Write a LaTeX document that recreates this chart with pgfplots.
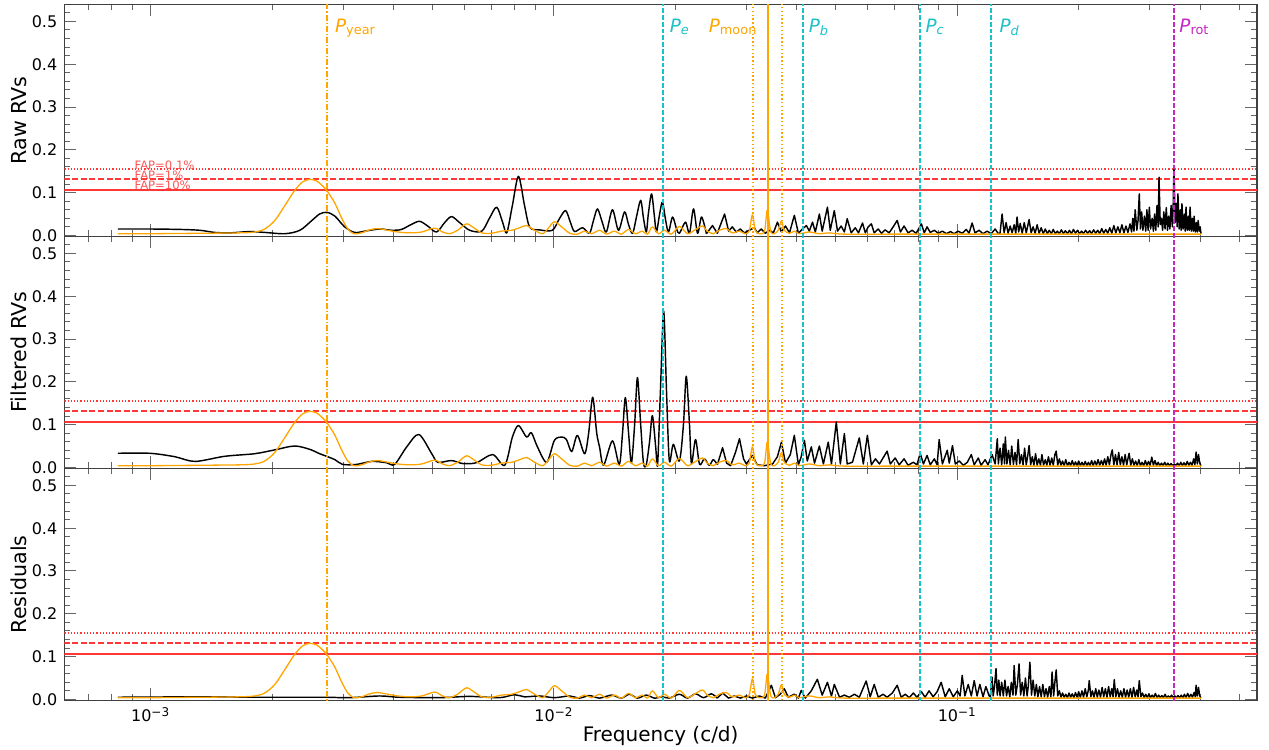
\documentclass[border=0pt]{standalone}
\usepackage{pgfplots}
\usepackage{pgfplotstable}
\pgfplotsset{compat=1.18}
\usepackage{fontspec}
\setmainfont{DejaVu Sans}

\definecolor{winorange}{HTML}{FFA500}
\definecolor{planetcyan}{HTML}{1CC1C8}
\definecolor{rotmag}{HTML}{C526C5}
\definecolor{faprd}{RGB}{255,55,55}

% Columns: log10 of frequency (c/d) and normalised GLS power

% spectral window (same sampling for all three data sets)
\pgfplotstableread{
logf power
-3.081 0.004
-3.002 0.004
-2.878 0.005
-2.779 0.006
-2.742 0.008
-2.717 0.015
-2.692 0.035
-2.667 0.070
-2.643 0.105
-2.623 0.125
-2.605 0.131
-2.588 0.127
-2.573 0.115
-2.561 0.102
-2.543 0.075
-2.526 0.040
-2.511 0.015
-2.496 0.004
-2.477 0.006
-2.457 0.013
-2.437 0.016
-2.412 0.012
-2.387 0.008
-2.358 0.006
-2.328 0.008
-2.296 0.017
-2.276 0.008
-2.259 0.004
-2.239 0.012
-2.217 0.027
-2.199 0.018
-2.179 0.006
-2.155 0.005
-2.130 0.010
-2.105 0.012
-2.085 0.018
-2.068 0.023
-2.048 0.012
-2.028 0.004
-2.013 0.018
-1.999 0.032
-1.981 0.020
-1.961 0.005
-1.942 0.003
-1.924 0.010
-1.907 0.004
-1.887 0.012
-1.870 0.003
-1.850 0.010
-1.833 0.003
-1.815 0.014
-1.798 0.004
-1.781 0.010
-1.768 0.003
-1.756 0.020
-1.741 0.004
-1.726 0.012
-1.709 0.003
-1.689 0.021
-1.669 0.004
-1.652 0.012
-1.632 0.022
-1.620 0.010
-1.605 0.004
-1.590 0.012
-1.573 0.016
-1.558 0.006
-1.540 0.010
-1.526 0.004
-1.516 0.010
-1.508 0.048
-1.501 0.012
-1.491 0.004
-1.478 0.010
-1.471 0.060
-1.463 0.010
-1.454 0.004
-1.444 0.012
-1.436 0.034
-1.429 0.012
-1.416 0.005
-1.404 0.010
-1.392 0.004
-1.367 0.008
-1.342 0.004
-1.317 0.006
-1.280 0.003
-1.144 0.003
-0.896 0.003
-0.649 0.003
-0.396 0.003
}\windowtab

% raw RVs: long-period part
\pgfplotstableread{
logf power
-3.081 0.015
-3.002 0.015
-2.927 0.014
-2.878 0.012
-2.841 0.007
-2.803 0.006
-2.754 0.009
-2.717 0.007
-2.667 0.004
-2.630 0.012
-2.600 0.035
-2.581 0.050
-2.563 0.054
-2.543 0.045
-2.519 0.020
-2.494 0.007
-2.469 0.010
-2.432 0.015
-2.402 0.012
-2.378 0.014
-2.353 0.026
-2.333 0.033
-2.313 0.022
-2.291 0.008
-2.271 0.030
-2.254 0.044
-2.234 0.030
-2.209 0.012
-2.179 0.010
-2.160 0.040
-2.142 0.066
-2.127 0.030
-2.117 0.006
-2.103 0.070
-2.088 0.138
-2.073 0.070
-2.060 0.019
-2.036 0.013
-2.004 0.012
-1.986 0.040
-1.971 0.058
-1.959 0.030
-1.949 0.009
-1.929 0.018
-1.912 0.005
-1.902 0.035
-1.892 0.062
-1.880 0.030
-1.870 0.008
-1.855 0.060
-1.840 0.012
-1.825 0.055
-1.815 0.025
-1.805 0.005
-1.795 0.045
-1.785 0.082
-1.778 0.040
-1.771 0.008
-1.766 0.050
-1.758 0.097
-1.751 0.045
-1.746 0.008
-1.738 0.050
-1.731 0.078
-1.723 0.035
-1.716 0.008
-1.706 0.043
-1.696 0.015
-1.689 0.005
-1.674 0.031
-1.664 0.005
-1.654 0.062
-1.644 0.005
-1.634 0.043
-1.622 0.004
}\rawlow

% raw RVs: short-period part
\pgfplotstableread{
logf power
-1.622 0.004
-1.607 0.023
-1.595 0.005
-1.587 0.025
-1.577 0.050
-1.567 0.010
-1.558 0.020
-1.548 0.008
-1.538 0.015
-1.528 0.006
-1.516 0.012
-1.503 0.018
-1.496 0.006
-1.486 0.015
-1.476 0.005
-1.466 0.012
-1.456 0.006
-1.446 0.031
-1.436 0.008
-1.426 0.022
-1.416 0.006
-1.404 0.047
-1.394 0.005
-1.384 0.015
-1.374 0.023
-1.367 0.010
-1.359 0.031
-1.352 0.008
-1.342 0.050
-1.335 0.010
-1.322 0.066
-1.315 0.012
-1.305 0.058
-1.297 0.010
-1.288 0.022
-1.280 0.008
-1.273 0.039
-1.263 0.006
-1.253 0.018
-1.245 0.006
-1.235 0.029
-1.228 0.006
-1.221 0.020
-1.213 0.027
-1.206 0.006
-1.196 0.015
-1.188 0.005
-1.179 0.013
-1.169 0.006
-1.159 0.020
-1.149 0.035
-1.141 0.008
-1.132 0.022
-1.122 0.006
-1.112 0.012
-1.102 0.005
-1.089 0.027
-1.082 0.006
-1.075 0.020
-1.067 0.007
-1.057 0.012
-1.047 0.005
-1.037 0.010
-1.027 0.004
-1.017 0.009
-1.008 0.004
-0.998 0.010
-0.988 0.005
-0.978 0.014
-0.971 0.005
-0.963 0.029
-0.956 0.006
-0.946 0.012
-0.936 0.004
-0.926 0.010
-0.916 0.004
-0.906 0.015
-0.899 0.005
-0.894 0.005
-0.889 0.050
-0.884 0.006
-0.879 0.030
-0.874 0.005
-0.869 0.022
-0.864 0.006
-0.859 0.025
-0.855 0.005
-0.852 0.043
-0.848 0.008
-0.844 0.028
-0.839 0.005
-0.834 0.030
-0.829 0.006
-0.822 0.037
-0.817 0.006
-0.812 0.020
-0.807 0.005
-0.802 0.025
-0.797 0.005
-0.792 0.018
-0.787 0.004
-0.782 0.015
-0.777 0.004
-0.772 0.012
-0.767 0.004
-0.762 0.014
-0.757 0.004
-0.752 0.010
-0.747 0.004
-0.742 0.013
-0.737 0.004
-0.732 0.011
-0.727 0.004
-0.722 0.012
-0.717 0.004
-0.712 0.014
-0.707 0.005
-0.702 0.012
-0.697 0.004
-0.692 0.010
-0.687 0.004
-0.682 0.012
-0.677 0.005
-0.672 0.011
-0.667 0.004
-0.662 0.013
-0.657 0.005
-0.652 0.012
-0.647 0.004
-0.642 0.016
-0.637 0.005
-0.632 0.014
-0.627 0.005
-0.622 0.018
-0.617 0.005
-0.612 0.023
-0.607 0.006
-0.602 0.020
-0.597 0.006
-0.592 0.025
-0.587 0.006
-0.582 0.022
-0.577 0.007
-0.572 0.027
-0.568 0.008
-0.565 0.040
-0.562 0.010
-0.559 0.060
-0.555 0.012
-0.552 0.035
-0.549 0.097
-0.546 0.015
-0.543 0.055
-0.540 0.012
-0.536 0.045
-0.533 0.010
-0.530 0.060
-0.527 0.012
-0.524 0.066
-0.521 0.015
-0.517 0.040
-0.514 0.010
-0.511 0.050
-0.508 0.012
-0.505 0.070
-0.502 0.020
-0.500 0.136
-0.497 0.025
-0.494 0.040
-0.491 0.012
-0.488 0.055
-0.485 0.015
-0.482 0.065
-0.479 0.012
-0.476 0.045
-0.473 0.015
-0.470 0.070
-0.467 0.020
-0.465 0.060
-0.463 0.164
-0.460 0.030
-0.457 0.075
-0.455 0.020
-0.453 0.097
-0.450 0.015
-0.447 0.060
-0.445 0.012
-0.443 0.074
-0.440 0.015
-0.437 0.050
-0.435 0.010
-0.433 0.066
-0.430 0.012
-0.427 0.045
-0.425 0.012
-0.423 0.066
-0.420 0.010
-0.417 0.040
-0.415 0.010
-0.413 0.045
-0.410 0.008
-0.407 0.030
-0.405 0.008
-0.403 0.035
-0.400 0.010
-0.398 0.020
-0.396 0.004
}\rawhigh

% filtered RVs: long-period part
\pgfplotstableread{
logf power
-3.081 0.033
-3.002 0.033
-2.940 0.025
-2.890 0.014
-2.816 0.026
-2.742 0.032
-2.692 0.041
-2.643 0.050
-2.605 0.042
-2.581 0.032
-2.561 0.025
-2.543 0.018
-2.524 0.007
-2.489 0.007
-2.452 0.014
-2.415 0.011
-2.395 0.007
-2.365 0.048
-2.335 0.077
-2.303 0.032
-2.288 0.012
-2.254 0.016
-2.226 0.009
-2.192 0.011
-2.152 0.030
-2.122 0.005
-2.103 0.071
-2.088 0.098
-2.068 0.071
-2.056 0.081
-2.041 0.048
-2.018 0.012
-1.999 0.063
-1.981 0.071
-1.969 0.065
-1.956 0.037
-1.942 0.075
-1.924 0.032
-1.914 0.080
-1.904 0.164
-1.894 0.080
-1.887 0.048
-1.877 0.005
-1.855 0.062
-1.838 0.007
-1.830 0.080
-1.823 0.163
-1.815 0.080
-1.808 0.010
-1.800 0.100
-1.793 0.210
-1.785 0.100
-1.778 0.010
-1.771 0.007
-1.763 0.060
-1.756 0.121
-1.748 0.050
-1.743 0.007
-1.736 0.180
-1.728 0.365
-1.721 0.180
-1.714 0.016
-1.704 0.054
-1.689 0.015
-1.679 0.100
-1.672 0.213
-1.664 0.100
-1.659 0.009
-1.649 0.065
-1.639 0.007
-1.627 0.020
-1.615 0.005
-1.605 0.018
-1.595 0.006
}\fltlow

% filtered RVs: short-period part
\pgfplotstableread{
logf power
-1.595 0.006
-1.582 0.046
-1.572 0.010
-1.562 0.004
-1.550 0.035
-1.540 0.067
-1.530 0.020
-1.523 0.008
-1.508 0.028
-1.496 0.006
-1.478 0.004
-1.458 0.008
-1.446 0.025
-1.436 0.059
-1.426 0.010
-1.414 0.030
-1.404 0.075
-1.394 0.006
-1.387 0.025
-1.379 0.063
-1.372 0.015
-1.362 0.048
-1.354 0.010
-1.342 0.050
-1.332 0.008
-1.320 0.059
-1.312 0.008
-1.300 0.106
-1.290 0.008
-1.280 0.079
-1.273 0.008
-1.260 0.012
-1.243 0.069
-1.233 0.008
-1.223 0.075
-1.213 0.006
-1.203 0.020
-1.193 0.008
-1.174 0.038
-1.166 0.008
-1.154 0.022
-1.144 0.006
-1.132 0.020
-1.122 0.005
-1.109 0.012
-1.100 0.006
-1.092 0.033
-1.084 0.008
-1.075 0.028
-1.067 0.006
-1.057 0.020
-1.050 0.006
-1.045 0.065
-1.037 0.008
-1.025 0.040
-1.020 0.010
-1.012 0.051
-1.005 0.008
-0.995 0.015
-0.985 0.005
-0.975 0.012
-0.965 0.030
-0.958 0.006
-0.948 0.022
-0.941 0.005
-0.931 0.018
-0.924 0.006
-0.914 0.030
-0.906 0.008
-0.901 0.067
-0.898 0.008
-0.894 0.045
-0.890 0.006
-0.886 0.055
-0.883 0.008
-0.881 0.071
-0.877 0.008
-0.873 0.040
-0.869 0.006
-0.865 0.050
-0.861 0.007
-0.857 0.035
-0.853 0.006
-0.849 0.065
-0.845 0.008
-0.841 0.030
-0.837 0.006
-0.833 0.045
-0.829 0.006
-0.825 0.030
-0.822 0.051
-0.818 0.006
-0.814 0.025
-0.810 0.005
-0.806 0.032
-0.802 0.005
-0.798 0.020
-0.794 0.005
-0.790 0.030
-0.786 0.005
-0.782 0.018
-0.778 0.005
-0.774 0.025
-0.770 0.005
-0.766 0.022
-0.762 0.005
-0.758 0.030
-0.755 0.038
-0.751 0.005
-0.747 0.020
-0.743 0.005
-0.739 0.015
-0.735 0.004
-0.731 0.018
-0.727 0.004
-0.723 0.012
-0.719 0.004
-0.715 0.016
-0.711 0.004
-0.707 0.013
-0.703 0.004
-0.699 0.015
-0.695 0.004
-0.691 0.012
-0.687 0.004
-0.683 0.014
-0.679 0.004
-0.675 0.012
-0.671 0.004
-0.667 0.016
-0.663 0.004
-0.659 0.015
-0.655 0.005
-0.651 0.018
-0.647 0.005
-0.643 0.016
-0.639 0.005
-0.635 0.020
-0.631 0.005
-0.627 0.025
-0.623 0.006
-0.619 0.030
-0.616 0.041
-0.612 0.006
-0.608 0.030
-0.604 0.006
-0.600 0.035
-0.596 0.006
-0.592 0.025
-0.588 0.005
-0.584 0.030
-0.580 0.006
-0.576 0.025
-0.574 0.033
-0.570 0.005
-0.566 0.020
-0.562 0.005
-0.558 0.015
-0.554 0.004
-0.550 0.018
-0.546 0.004
-0.542 0.012
-0.538 0.004
-0.534 0.016
-0.530 0.004
-0.526 0.014
-0.522 0.005
-0.518 0.024
-0.514 0.005
-0.510 0.016
-0.506 0.004
-0.502 0.012
-0.498 0.004
-0.494 0.010
-0.490 0.004
-0.486 0.012
-0.482 0.004
-0.478 0.010
-0.474 0.004
-0.470 0.009
-0.466 0.004
-0.462 0.008
-0.458 0.004
-0.454 0.010
-0.450 0.004
-0.446 0.012
-0.442 0.004
-0.438 0.011
-0.434 0.004
-0.430 0.014
-0.426 0.005
-0.422 0.012
-0.418 0.005
-0.414 0.020
-0.411 0.006
-0.408 0.036
-0.405 0.008
-0.402 0.030
-0.399 0.010
-0.396 0.004
}\flthigh

% residuals: long-period part
\pgfplotstableread{
logf power
-3.081 0.005
-2.878 0.006
-2.729 0.005
-2.630 0.005
-2.563 0.005
-2.506 0.004
-2.432 0.008
-2.383 0.005
-2.283 0.004
-2.209 0.007
-2.135 0.004
-2.098 0.011
-2.073 0.006
-2.036 0.008
-1.999 0.004
-1.961 0.008
-1.937 0.003
-1.912 0.009
-1.887 0.003
-1.857 0.010
-1.833 0.003
-1.813 0.012
-1.793 0.003
-1.771 0.010
-1.751 0.003
-1.731 0.006
-1.714 0.003
-1.689 0.012
-1.669 0.003
-1.649 0.013
-1.629 0.004
-1.610 0.013
-1.595 0.003
}\reslow

% residuals: short-period part
\pgfplotstableread{
logf power
-1.595 0.003
-1.582 0.015
-1.567 0.003
-1.553 0.008
-1.538 0.003
-1.523 0.008
-1.508 0.003
-1.491 0.008
-1.476 0.003
-1.461 0.033
-1.451 0.004
-1.439 0.012
-1.429 0.025
-1.419 0.005
-1.404 0.012
-1.394 0.003
-1.387 0.021
-1.377 0.003
-1.362 0.020
-1.347 0.047
-1.335 0.010
-1.322 0.040
-1.312 0.008
-1.305 0.035
-1.292 0.005
-1.280 0.010
-1.268 0.005
-1.255 0.012
-1.243 0.005
-1.226 0.043
-1.216 0.006
-1.206 0.035
-1.196 0.005
-1.184 0.012
-1.174 0.005
-1.161 0.015
-1.149 0.033
-1.139 0.005
-1.129 0.012
-1.119 0.004
-1.109 0.015
-1.100 0.005
-1.089 0.018
-1.080 0.005
-1.070 0.020
-1.060 0.006
-1.050 0.018
-1.040 0.040
-1.030 0.006
-1.020 0.025
-1.010 0.006
-1.000 0.020
-0.993 0.008
-0.988 0.056
-0.981 0.008
-0.973 0.035
-0.965 0.008
-0.958 0.044
-0.951 0.008
-0.944 0.035
-0.936 0.006
-0.929 0.030
-0.921 0.008
-0.918 0.006
-0.914 0.052
-0.911 0.008
-0.908 0.030
-0.904 0.072
-0.901 0.010
-0.897 0.045
-0.894 0.008
-0.890 0.040
-0.886 0.008
-0.882 0.045
-0.878 0.008
-0.874 0.030
-0.870 0.006
-0.866 0.040
-0.862 0.010
-0.859 0.079
-0.855 0.010
-0.851 0.035
-0.847 0.083
-0.843 0.010
-0.839 0.040
-0.835 0.008
-0.831 0.050
-0.827 0.008
-0.824 0.030
-0.820 0.087
-0.816 0.010
-0.812 0.045
-0.808 0.008
-0.804 0.035
-0.800 0.006
-0.796 0.030
-0.792 0.006
-0.788 0.035
-0.784 0.006
-0.780 0.025
-0.776 0.005
-0.772 0.030
-0.768 0.006
-0.765 0.064
-0.761 0.008
-0.758 0.040
-0.755 0.069
-0.751 0.008
-0.747 0.020
-0.743 0.005
-0.739 0.015
-0.735 0.005
-0.731 0.012
-0.727 0.004
-0.723 0.015
-0.719 0.005
-0.715 0.013
-0.711 0.004
-0.707 0.016
-0.703 0.005
-0.699 0.018
-0.695 0.005
-0.691 0.020
-0.687 0.005
-0.683 0.025
-0.679 0.006
-0.675 0.022
-0.673 0.044
-0.669 0.006
-0.665 0.020
-0.661 0.005
-0.657 0.025
-0.653 0.005
-0.649 0.022
-0.645 0.005
-0.641 0.028
-0.637 0.006
-0.633 0.025
-0.629 0.005
-0.625 0.030
-0.621 0.006
-0.617 0.025
-0.614 0.006
-0.611 0.046
-0.607 0.006
-0.603 0.025
-0.599 0.005
-0.595 0.020
-0.591 0.005
-0.587 0.025
-0.583 0.005
-0.579 0.022
-0.575 0.005
-0.571 0.025
-0.567 0.005
-0.563 0.028
-0.559 0.006
-0.555 0.022
-0.552 0.006
-0.549 0.044
-0.545 0.006
-0.541 0.015
-0.537 0.004
-0.533 0.012
-0.529 0.004
-0.525 0.013
-0.521 0.004
-0.517 0.010
-0.513 0.004
-0.509 0.014
-0.505 0.004
-0.501 0.010
-0.497 0.004
-0.493 0.009
-0.489 0.004
-0.485 0.012
-0.481 0.004
-0.477 0.008
-0.473 0.004
-0.469 0.010
-0.465 0.004
-0.461 0.008
-0.457 0.004
-0.453 0.009
-0.449 0.004
-0.445 0.010
-0.441 0.004
-0.437 0.012
-0.433 0.004
-0.429 0.014
-0.425 0.005
-0.421 0.012
-0.417 0.005
-0.413 0.016
-0.410 0.006
-0.408 0.033
-0.405 0.008
-0.402 0.028
-0.399 0.008
-0.396 0.004
}\reshigh

% shared look of the three stacked periodogram panels
\pgfplotsset{
  every axis/.append style={
    xmode=log, scale only axis,
    width=596.4pt, height=116pt,
    anchor=south west,
    xmin=6.109e-4, xmax=0.5533,
    ymin=-0.002, ymax=0.540,
    xtick={1e-3,1e-2,1e-1},
    minor xtick={7e-4,8e-4,9e-4,2e-3,3e-3,4e-3,5e-3,6e-3,7e-3,8e-3,9e-3,
                 2e-2,3e-2,4e-2,5e-2,6e-2,7e-2,8e-2,9e-2,0.2,0.3,0.4,0.5},
    ytick={0,0.1,0.2,0.3,0.4,0.5},
    yticklabels={0.0,0.1,0.2,0.3,0.4,0.5},
    minor ytick={0.02,0.04,0.06,0.08,0.12,0.14,0.16,0.18,0.22,0.24,0.26,0.28,
                 0.32,0.34,0.36,0.38,0.42,0.44,0.46,0.48,0.52},
    tick align=inside,
    major tick length=6pt, minor tick length=3pt,
    tick style={black!60, line width=0.5pt},
    axis line style={black!75, line width=0.6pt},
    tick label style={font=\fontsize{8}{9.6}\selectfont},
    ylabel style={font=\fontsize{10.3}{12}\selectfont,
                  at={(axis description cs:-0.0315,0.5)}, anchor=south, inner sep=0pt},
    xlabel style={font=\fontsize{10}{12}\selectfont,
                  at={(axis description cs:0.5,-0.177)}, anchor=base, inner sep=0pt},
  },
}
\tikzset{
  pgram/.style={black, line width=0.72pt, line join=round},
  wind/.style={winorange, line width=0.65pt, line join=round, smooth},
  plabel/.style={anchor=base west, inner sep=0pt, font=\fontsize{9.2}{10}\selectfont},
  fapl/.style={text=faprd!85!white, anchor=base west, inner sep=0pt, font=\fontsize{5.8}{6}\selectfont},
  pdash/.style={line width=1pt, dash pattern=on 2.4pt off 1pt},
  fapline/.style={faprd, line width=1pt},
  moondot/.style={winorange, line width=0.9pt, dash pattern=on 0.7pt off 1.2pt},
}

\newcommand{\faplines}{%
  \addplot[fapline, dash pattern=on 0.6pt off 1pt] coordinates {(5e-4,0.155) (0.7,0.155)};
  \addplot[fapline, dash pattern=on 3pt off 1.3pt] coordinates {(5e-4,0.131) (0.7,0.131)};
  \addplot[fapline] coordinates {(5e-4,0.107) (0.7,0.107)};
}
\newcommand{\periodlines}{%
  \addplot[winorange, line width=0.7pt, dash pattern=on 3pt off 1pt on 0.6pt off 1pt] coordinates {(0.0027379,-0.1) (0.0027379,0.7)};
  \addplot[planetcyan, pdash] coordinates {(0.018684,-0.1) (0.018684,0.7)};
  \addplot[moondot] coordinates {(0.03122,-0.1) (0.03122,0.7)};
  \addplot[winorange, line width=0.9pt] coordinates {(0.03386,-0.1) (0.03386,0.7)};
  \addplot[moondot] coordinates {(0.03683,-0.1) (0.03683,0.7)};
  \addplot[planetcyan, pdash] coordinates {(0.04153,-0.1) (0.04153,0.7)};
  \addplot[planetcyan, pdash] coordinates {(0.08079,-0.1) (0.08079,0.7)};
  \addplot[planetcyan, pdash] coordinates {(0.12134,-0.1) (0.12134,0.7)};
  \addplot[rotmag, pdash] coordinates {(0.34446,-0.1) (0.34446,0.7)};
}

\begin{document}
\begin{tikzpicture}

% Raw RVs
\begin{axis}[at={(0,232pt)}, xticklabels={}, ylabel={Raw RVs}]
  \coordinate (tl) at (rel axis cs:0,1);
  \faplines
  \addplot[pgram, smooth] table[x expr=10^(\thisrow{logf}), y=power] {\rawlow};
  \addplot[pgram] table[x expr=10^(\thisrow{logf}), y=power] {\rawhigh};
  \addplot[wind] table[x expr=10^(\thisrow{logf}), y=power] {\windowtab};
  \periodlines
  \node[fapl] at (axis cs:9.11e-4,0.155) {FAP=0.1\%};
  \node[fapl] at (axis cs:9.11e-4,0.131) {FAP=1\%};
  \node[fapl] at (axis cs:9.11e-4,0.107) {FAP=10\%};
  \node[plabel, text=winorange] at (axis cs:0.002861,0.475) {\textit{P}\textsubscript{year}};
  \node[plabel, text=planetcyan] at (axis cs:0.019336,0.475) {\textit{P}\textsubscript{\textit{e}}};
  \node[plabel, text=winorange] at (axis cs:0.024155,0.475) {\textit{P}\textsubscript{moon}};
  \node[plabel, text=planetcyan] at (axis cs:0.04273,0.475) {\textit{P}\textsubscript{\textit{b}}};
  \node[plabel, text=planetcyan] at (axis cs:0.08327,0.475) {\textit{P}\textsubscript{\textit{c}}};
  \node[plabel, text=planetcyan] at (axis cs:0.12700,0.475) {\textit{P}\textsubscript{\textit{d}}};
  \node[plabel, text=rotmag] at (axis cs:0.35455,0.475) {\textit{P}\textsubscript{rot}};
\end{axis}

% Filtered RVs
\begin{axis}[at={(0,116pt)}, xticklabels={}, ylabel={Filtered RVs}]
  \faplines
  \addplot[pgram, smooth] table[x expr=10^(\thisrow{logf}), y=power] {\fltlow};
  \addplot[pgram] table[x expr=10^(\thisrow{logf}), y=power] {\flthigh};
  \addplot[wind] table[x expr=10^(\thisrow{logf}), y=power] {\windowtab};
  \periodlines
\end{axis}

% Residuals
\begin{axis}[at={(0,0)}, ylabel={Residuals},
    xticklabels={10\textsuperscript{\char"2212 3},10\textsuperscript{\char"2212 2},10\textsuperscript{\char"2212 1}},
    xlabel={Frequency (c/d)}]
  \coordinate (br) at (rel axis cs:1,0);
  \faplines
  \addplot[pgram, smooth] table[x expr=10^(\thisrow{logf}), y=power] {\reslow};
  \addplot[pgram] table[x expr=10^(\thisrow{logf}), y=power] {\reshigh};
  \addplot[wind] table[x expr=10^(\thisrow{logf}), y=power] {\windowtab};
  \periodlines
\end{axis}

\pgfresetboundingbox
\path ([xshift=-32.15pt,yshift=2.15pt]tl) rectangle ([xshift=6pt,yshift=-24.85pt]br);
\end{tikzpicture}
\end{document}
